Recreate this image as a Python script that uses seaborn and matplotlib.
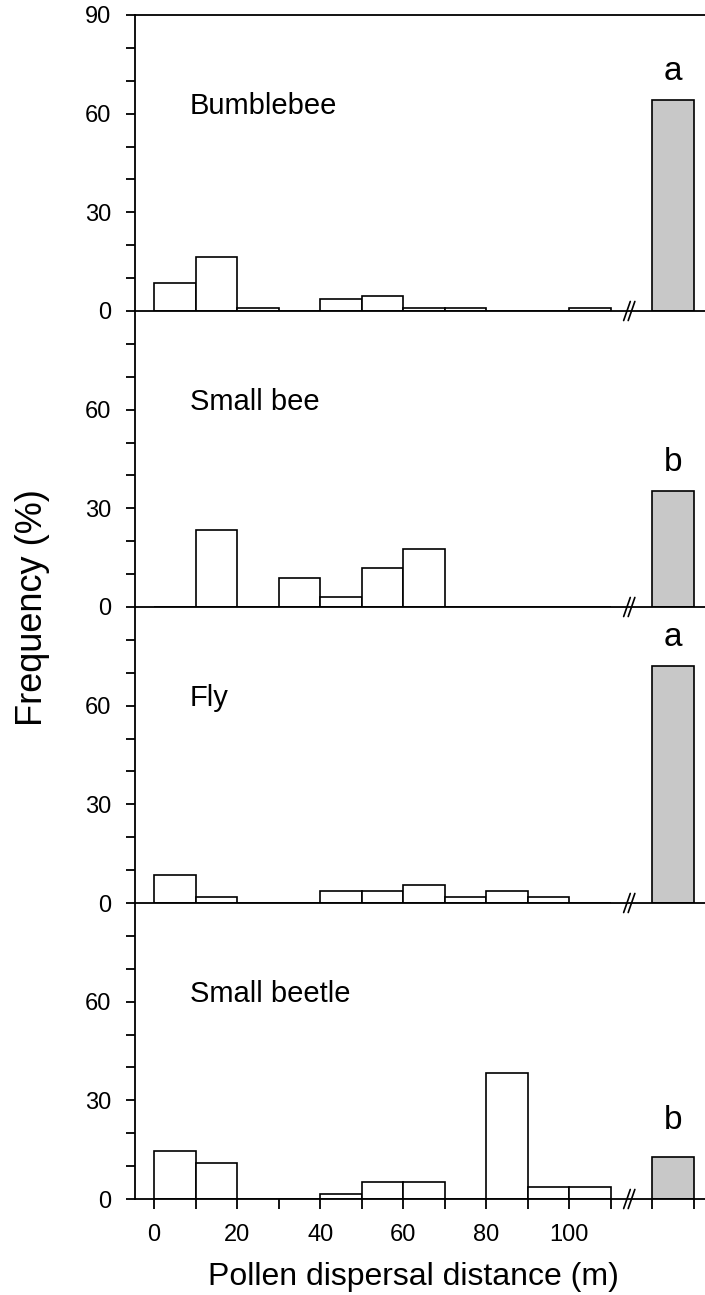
import numpy as np
import pandas as pd
import matplotlib
matplotlib.use("Agg")
import matplotlib.pyplot as plt
import seaborn as sns

# distance classes (left edge of each 10 m bin)
bin_left = [0, 10, 20, 30, 40, 50, 60, 70, 80, 90, 100]
species = ["Bumblebee", "Small bee", "Fly", "Small beetle"]

# frequency (%) per distance class
bumblebee = [8.4, 16.3, 0.9, 0, 3.7, 4.5, 0.9, 0.9, 0, 0, 0.9]
small_bee = [0, 23.5, 0, 8.8, 2.9, 11.8, 17.6, 0, 0, 0, 0]
fly = [8.6, 1.9, 0, 0, 3.8, 3.8, 5.5, 1.9, 3.8, 1.9, 0]
small_beetle = [14.7, 10.8, 0, 0, 1.5, 5.1, 5.1, 0, 38.2, 3.7, 3.7]

# grey bar on the right of the break
far_values = [64.2, 35.3, 72.0, 12.9]
sig_letters = ["a", "b", "a", "b"]

x_ticks = [0, 20, 40, 60, 80, 100]

sns.set_style("ticks", {"axes.edgecolor": "black", "text.color": "black",
                        "xtick.color": "black", "ytick.color": "black",
                        "axes.labelcolor": "black"})
plt.rcParams["font.family"] = ["Liberation Sans", "DejaVu Sans"]
plt.rcParams["axes.linewidth"] = 1.3

rows = []
for name, vals in zip(species, [bumblebee, small_bee, fly, small_beetle]):
    for b, v in zip(bin_left, vals):
        rows.append({"species": name, "distance": b + 5, "freq": v})
df = pd.DataFrame(rows)

fig, axes = plt.subplots(4, 1, figsize=(7.05, 12.95), dpi=100, sharex=True)
fig.subplots_adjust(left=0.192, right=1.0, top=0.98842, bottom=0.07413, hspace=0)

letter_pad = [6, 6, 6, 8.5]

for i, (ax, name) in enumerate(zip(axes, species)):
    ax.set_facecolor("none")  # so the break marks show across panel edges
    sub = df[df["species"] == name]
    sns.histplot(data=sub, x="distance", weights="freq", binwidth=10, binrange=(0, 110),
                 color="white", edgecolor="black", linewidth=1.2, alpha=1, ax=ax)
    far = pd.DataFrame({"distance": [125], "freq": [far_values[i]]})
    sns.histplot(data=far, x="distance", weights="freq", binwidth=10, binrange=(120, 130),
                 color="#c8c8c8", edgecolor="black", linewidth=1.2, alpha=1, ax=ax)

    ax.set_xlim(-4.53, 132.7)
    ax.set_ylim(0, 90)
    ax.set_xlabel("")
    ax.set_ylabel("")

    ax.text(8.6, 60, name, fontsize=21, va="baseline", ha="left")
    ax.text(125, far_values[i] + letter_pad[i], sig_letters[i],
            fontsize=24, va="baseline", ha="center")

    # axis break marks
    for c in (113.9, 115.0):
        ax.plot([c - 0.8, c + 0.8], [-2.9, 2.9], color="black", lw=1.2,
                clip_on=False, zorder=5)

    if i == 0:
        ax.set_yticks([0, 30, 60, 90])
    else:
        ax.set_yticks([0, 30, 60])
    ax.set_yticks([10, 20, 40, 50, 70, 80], minor=True)
    ax.tick_params(axis="y", which="both", direction="out", length=6.5,
                   width=1.3, labelsize=17, pad=11)

    sns.despine(ax=ax, top=(i != 0), right=True)
    if i < 3:
        ax.tick_params(axis="x", which="both", bottom=False, labelbottom=False)

bottom = axes[-1]
bottom.set_xticks(x_ticks)
bottom.set_xticks([10, 30, 50, 70, 90, 110, 120, 130], minor=True)
bottom.tick_params(axis="x", which="both", direction="out", length=7,
                   width=1.3, labelsize=17, pad=11)

fig.text(0.587, 0.0139, "Pollen dispersal distance (m)", fontsize=23,
         ha="center", va="center")
fig.text(0.046, 0.531, "Frequency (%)", fontsize=26, rotation=90,
         ha="center", va="center")

fig.savefig("out.png", dpi=100)
